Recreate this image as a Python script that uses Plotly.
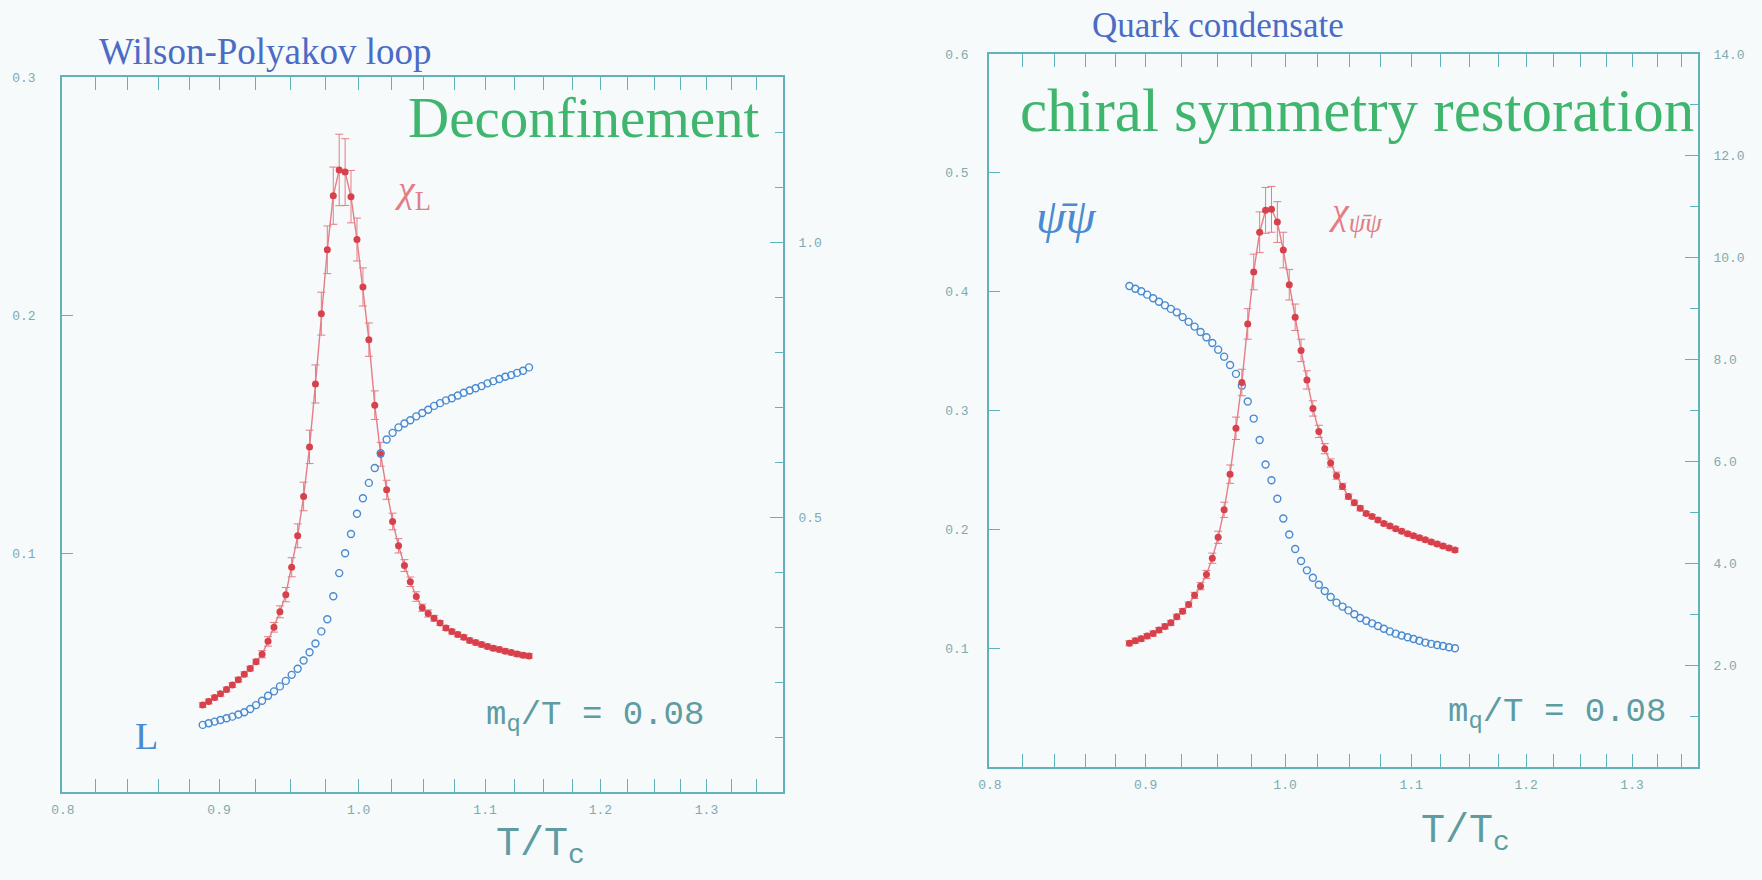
import plotly.graph_objects as go

# ---------------- data ----------------
t_over_tc = [0.8890, 0.8930, 0.8970, 0.9010, 0.9051, 0.9091, 0.9132, 0.9173, 0.9214, 0.9255,
             0.9297, 0.9339, 0.9381, 0.9423, 0.9465, 0.9507, 0.9550, 0.9593, 0.9636, 0.9679,
             0.9722, 0.9766, 0.9810, 0.9854, 0.9898, 0.9942, 0.9987, 1.0032, 1.0077, 1.0122,
             1.0167, 1.0213, 1.0259, 1.0305, 1.0351, 1.0397, 1.0444, 1.0491, 1.0538, 1.0585,
             1.0633, 1.0680, 1.0728, 1.0776, 1.0825, 1.0873, 1.0922, 1.0971, 1.1020, 1.1069,
             1.1119, 1.1169, 1.1219, 1.1269, 1.1320, 1.1371]

chi_L = [0.0365, 0.0380, 0.0396, 0.0412, 0.0430, 0.0449, 0.0471, 0.0494, 0.0518, 0.0547,
         0.0578, 0.0632, 0.0691, 0.0756, 0.0828, 0.0943, 0.1075, 0.1240, 0.1448, 0.1712,
         0.2007, 0.2275, 0.2502, 0.2610, 0.2601, 0.2498, 0.2318, 0.2119, 0.1898, 0.1623,
         0.1417, 0.1268, 0.1135, 0.1033, 0.0950, 0.0882, 0.0820, 0.0773, 0.0749, 0.0729,
         0.0709, 0.0688, 0.0673, 0.0661, 0.0649, 0.0636, 0.0627, 0.0619, 0.0611, 0.0603,
         0.0598, 0.0591, 0.0585, 0.0579, 0.0574, 0.0571]

chi_L_err = [0.0010, 0.0010, 0.0010, 0.0010, 0.0010, 0.0010, 0.0010, 0.0010, 0.0010, 0.0010,
             0.0015, 0.0020, 0.0020, 0.0025, 0.0030, 0.0040, 0.0050, 0.0060, 0.0070, 0.0080,
             0.0090, 0.0100, 0.0120, 0.0150, 0.0140, 0.0110, 0.0090, 0.0080, 0.0070, 0.0060,
             0.0050, 0.0040, 0.0035, 0.0030, 0.0025, 0.0020, 0.0020, 0.0015, 0.0015, 0.0012,
             0.0010, 0.0010, 0.0010, 0.0010, 0.0010, 0.0010, 0.0010, 0.0010, 0.0010, 0.0010,
             0.0010, 0.0010, 0.0010, 0.0010, 0.0010, 0.0010]

loop_L = [0.122, 0.125, 0.128, 0.131, 0.134, 0.137, 0.141, 0.145, 0.151, 0.158,
          0.166, 0.175, 0.183, 0.192, 0.202, 0.213, 0.224, 0.239, 0.254, 0.270,
          0.292, 0.314, 0.356, 0.398, 0.434, 0.469, 0.506, 0.534, 0.562, 0.589,
          0.616, 0.641, 0.653, 0.663, 0.670, 0.676, 0.683, 0.689, 0.695, 0.702,
          0.707, 0.712, 0.716, 0.721, 0.726, 0.730, 0.734, 0.738, 0.743, 0.747,
          0.751, 0.755, 0.758, 0.762, 0.766, 0.772]

chi_pbp = [2.43, 2.48, 2.52, 2.57, 2.62, 2.69, 2.76, 2.83, 2.95, 3.06,
           3.19, 3.37, 3.55, 3.78, 4.10, 4.51, 5.05, 5.75, 6.65, 7.55,
           8.70, 9.72, 10.50, 10.93, 10.95, 10.70, 10.15, 9.47, 8.83, 8.18,
           7.60, 7.04, 6.59, 6.25, 5.97, 5.72, 5.51, 5.31, 5.19, 5.08,
           4.98, 4.92, 4.85, 4.78, 4.73, 4.68, 4.63, 4.58, 4.54, 4.50,
           4.46, 4.42, 4.38, 4.34, 4.30, 4.26]

chi_pbp_err = [0.05, 0.05, 0.05, 0.05, 0.05, 0.05, 0.05, 0.05, 0.05, 0.05,
               0.05, 0.06, 0.07, 0.08, 0.10, 0.12, 0.15, 0.18, 0.22, 0.26,
               0.30, 0.35, 0.40, 0.45, 0.45, 0.40, 0.35, 0.30, 0.26, 0.22,
               0.18, 0.15, 0.12, 0.10, 0.08, 0.07, 0.06, 0.05, 0.05, 0.05,
               0.04, 0.04, 0.04, 0.04, 0.04, 0.04, 0.04, 0.04, 0.04, 0.04,
               0.04, 0.04, 0.04, 0.04, 0.04, 0.04]

pbp = [0.4048, 0.4025, 0.4003, 0.3975, 0.3945, 0.3915, 0.3885, 0.3855, 0.3826, 0.3786,
       0.3746, 0.3706, 0.3661, 0.3616, 0.3568, 0.3512, 0.3453, 0.3383, 0.3308, 0.3209,
       0.3076, 0.2932, 0.2752, 0.2546, 0.2413, 0.2257, 0.2091, 0.1957, 0.1835, 0.1733,
       0.1655, 0.1592, 0.1534, 0.1481, 0.1430, 0.1383, 0.1350, 0.1318, 0.1286, 0.1254,
       0.1231, 0.1209, 0.1187, 0.1164, 0.1141, 0.1122, 0.1107, 0.1092, 0.1077, 0.1062,
       0.1047, 0.1036, 0.1027, 0.1018, 0.1008, 0.0999]

x_ticks = [0.8, 0.9, 1.0, 1.1, 1.2, 1.3]
x_ticktext = ["0.8", "0.9", "1.0", "1.1", "1.2", "1.3"]
x_minor = [0.82, 0.84, 0.86, 0.88, 0.925, 0.95, 0.975, 1.025, 1.05, 1.075,
           1.125, 1.15, 1.175, 1.225, 1.25, 1.275, 1.325, 1.35]
yL_ticks = [0.1, 0.2, 0.3]
yL_text = ["0.1", "0.2", "0.3"]
yLR_ticks = [0.5, 1.0]
yLR_text = ["0.5", "1.0"]
yR_ticks = [0.1, 0.2, 0.3, 0.4, 0.5, 0.6]
yR_text = ["0.1", "0.2", "0.3", "0.4", "0.5", "0.6"]
yRR_ticks = [2, 4, 6, 8, 10, 12, 14]
yRR_text = ["2.0", "4.0", "6.0", "8.0", "10.0", "12.0", "14.0"]

# ---------------- style ----------------
W, H = 1762, 880
BG = "#f6fafb"
AX = "#5fb3ba"
TK = "#7eaab0"
RED = "#d8404b"
RED_L = "#e47d86"
BLUE = "#4a8ad0"
GREEN = "#3fb56e"
TITLE_BLUE = "#4a6bc6"
TXT = "#5e9ca2"
MONO = "Liberation Mono, Courier New, monospace"
SERIF = "Liberation Serif, DejaVu Serif, serif"


def px(x):
    return x / W


def py(y):
    return 1 - y / H


fig = go.Figure()

red_marker = dict(symbol="circle", size=7, color=RED, line=dict(width=0))
blue_marker = dict(symbol="circle-open", size=7, color=BLUE, line=dict(width=1.4))

fig.add_trace(go.Scatter(
    x=t_over_tc, y=chi_L, mode="lines+markers", xaxis="x", yaxis="y",
    line=dict(color=RED_L, width=1.4), marker=red_marker,
    error_y=dict(type="data", array=chi_L_err, color=RED_L, thickness=1, width=4),
    showlegend=False))
fig.add_trace(go.Scatter(
    x=t_over_tc, y=loop_L, mode="markers", xaxis="x", yaxis="y2",
    marker=blue_marker, showlegend=False))

fig.add_trace(go.Scatter(
    x=t_over_tc, y=chi_pbp, mode="lines+markers", xaxis="x2", yaxis="y4",
    line=dict(color=RED_L, width=1.4), marker=red_marker,
    error_y=dict(type="data", array=chi_pbp_err, color=RED_L, thickness=1, width=4),
    showlegend=False))
fig.add_trace(go.Scatter(
    x=t_over_tc, y=pbp, mode="markers", xaxis="x2", yaxis="y3",
    marker=blue_marker, showlegend=False))

tickfont = dict(family=MONO, size=13, color=TK)


def xaxis(domain, rng, anchor):
    return dict(
        type="log", domain=domain, range=rng, anchor=anchor, automargin=False,
        tickmode="array", tickvals=x_ticks, ticktext=x_ticktext,
        ticks="inside", ticklen=13, tickwidth=1.3, tickcolor=AX,
        showline=True, linecolor=AX, linewidth=1.6, mirror="allticks",
        showgrid=False, zeroline=False, tickfont=tickfont, ticklabelstandoff=5,
        minor=dict(tickmode="array", tickvals=x_minor, ticks="inside",
                   ticklen=7, tickwidth=1.2, tickcolor=AX, showgrid=False),
    )


def yaxis_left(domain, rng, anchor, tv, tt, standoff):
    return dict(
        domain=domain, range=rng, anchor=anchor, automargin=False,
        tickmode="array", tickvals=tv, ticktext=tt,
        ticks="inside", ticklen=11, tickwidth=1.3, tickcolor=AX,
        showline=True, linecolor=AX, linewidth=1.6, mirror=False,
        showgrid=False, zeroline=False, tickfont=tickfont, ticklabelstandoff=standoff,
    )


def yaxis_right(overlay, rng, anchor, tv, tt, minor_dt):
    return dict(
        overlaying=overlay, side="right", range=rng, anchor=anchor, automargin=False,
        tickmode="array", tickvals=tv, ticktext=tt,
        ticks="inside", ticklen=13, tickwidth=1.3, tickcolor=AX,
        showline=True, linecolor=AX, linewidth=1.6,
        showgrid=False, zeroline=False, tickfont=tickfont, ticklabelstandoff=11,
        minor=dict(dtick=minor_dt, tick0=0, ticks="inside", ticklen=8,
                   tickwidth=1.2, tickcolor=AX, showgrid=False),
    )


left_x = [px(62), px(783)]
left_y = [py(792), py(77)]
right_x = [px(989), px(1698)]
right_y = [py(767), py(54)]

fig.update_layout(
    width=W, height=H,
    margin=dict(l=0, r=0, t=0, b=0, autoexpand=False),
    paper_bgcolor=BG, plot_bgcolor=BG,
    xaxis=xaxis(left_x, [-0.0972, 0.1390], "y"),
    yaxis=yaxis_left(left_y, [0, 0.3], "x", yL_ticks, yL_text, 22),
    yaxis2=yaxis_right("y", [0, 1.3], "x", yLR_ticks, yLR_text, 0.1),
    xaxis2=xaxis(right_x, [-0.0972, 0.1356], "y3"),
    yaxis3=yaxis_left(right_y, [0, 0.6], "x2", yR_ticks, yR_text, 16),
    yaxis4=yaxis_right("y3", [0, 14], "x2", yRR_ticks, yRR_text, 1),
)

ann = []


def note(text, x, y, size, color, family, xanchor="center", yanchor="middle"):
    ann.append(dict(text=text, x=px(x), y=py(y), xref="paper", yref="paper",
                    xanchor=xanchor, yanchor=yanchor, showarrow=False,
                    font=dict(size=size, color=color, family=family)))


note("Wilson-Polyakov loop", 265, 51, 37, TITLE_BLUE, SERIF)
note("Quark condensate", 1218, 25, 35, TITLE_BLUE, SERIF)
note("Deconfinement", 762, 118, 57, GREEN, SERIF, xanchor="right")
note("chiral symmetry restoration", 1018, 110, 61, GREEN, SERIF, xanchor="left")
note("<i>χ</i><sub>L</sub>", 392, 192, 38, RED_L, SERIF, xanchor="left")
note("L", 146, 736, 38, BLUE, SERIF)
note("<i>ψ̄ψ</i>", 1066, 216, 48, BLUE, SERIF)
note("<i>χ</i><sub><i>ψ̄ψ</i></sub>", 1326, 214, 38, RED_L, SERIF, xanchor="left")
note("m<sub>q</sub>/T = 0.08", 595, 717, 34, TXT, MONO)
note("m<sub>q</sub>/T = 0.08", 1557, 714, 34, TXT, MONO)
note("T/T<sub>c</sub>", 540, 846, 40, TXT, MONO)
note("T/T<sub>c</sub>", 1465, 833, 40, TXT, MONO)

fig.update_layout(annotations=ann)

fig.write_html("out.html")
